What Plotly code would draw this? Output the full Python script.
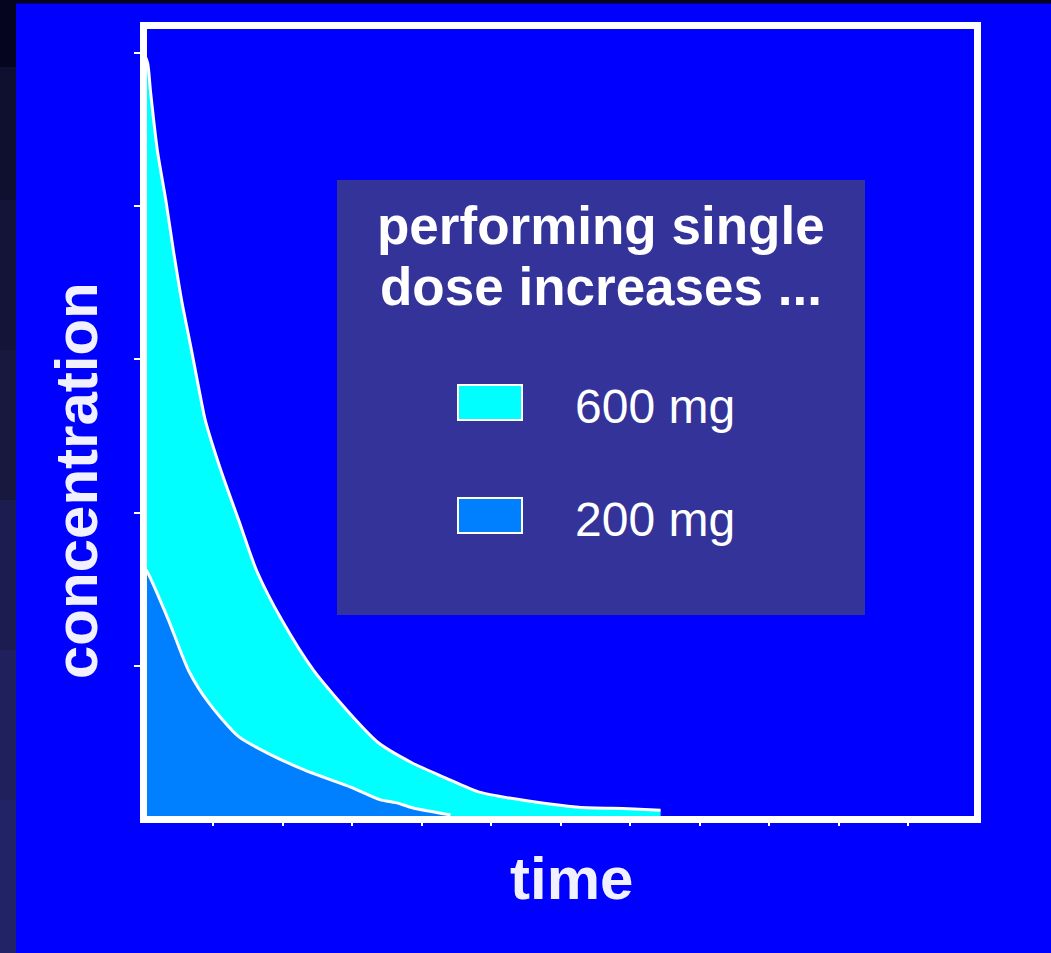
import plotly.graph_objects as go

# ---- data ----
t_600 = [0.0, 0.06, 0.10, 0.20, 0.32, 0.43, 0.55, 0.69, 0.83, 0.89, 1.11, 1.37, 1.63, 1.99,
         2.45, 3.05, 3.38, 3.86, 4.35, 4.82, 5.54, 6.26, 6.98, 7.44]
c_600 = [5.00, 4.93, 4.75, 4.36, 4.04, 3.71, 3.38, 3.06, 2.73, 2.60, 2.28, 1.95, 1.62, 1.30,
         0.97, 0.65, 0.50, 0.37, 0.27, 0.18, 0.12, 0.08, 0.07, 0.06]
t_200 = [0.0, 0.06, 0.36, 0.65, 0.94, 1.37, 1.80, 2.33, 2.99, 3.40, 3.63, 3.88, 4.42]
c_200 = [1.65, 1.61, 1.30, 0.97, 0.76, 0.54, 0.43, 0.32, 0.21, 0.13, 0.11, 0.075, 0.03]

series_names = ["600 mg", "200 mg"]
legend_title_lines = ["performing single", "dose increases ..."]
x_title = "time"
y_title = "concentration"
x_ticks = list(range(0, 13))
y_ticks = list(range(0, 6))

W, H = 1051, 953
L, R, T, B = 147, 974, 29, 816  # plot interior in pixels


def px(x):
    return (x - L) / (R - L)


def py(y):
    return (B - y) / (B - T)


FONT = "Liberation Sans, Arial, Helvetica, sans-serif"
BLUE = "#0000FF"
CYAN = "#00FFFF"
AZURE = "#0080FF"
BOX = "#333399"

fig = go.Figure()
fig.add_trace(go.Scatter(x=t_600, y=c_600, mode="lines", fill="tozeroy", fillcolor=CYAN,
                         line=dict(color="white", width=3, shape="spline", smoothing=0.7),
                         name=series_names[0]))
fig.add_trace(go.Scatter(x=t_200, y=c_200, mode="lines", fill="tozeroy", fillcolor=AZURE,
                         line=dict(color="white", width=3, shape="spline", smoothing=0.7),
                         name=series_names[1]))

shapes = []
# dark strips on page edges
strip_cols = ["#05051f", "#0f0f30", "#141438", "#18183f", "#1c1c50", "#20205c", "#222266"]
bounds = [0, 67, 200, 350, 500, 650, 800, 953]
for i, col in enumerate(strip_cols):
    shapes.append(dict(type="rect", xref="paper", yref="paper", x0=px(0), x1=px(16),
                       y0=py(bounds[i + 1]), y1=py(bounds[i]), fillcolor=col, line_width=0,
                       layer="below"))
shapes.append(dict(type="rect", xref="paper", yref="paper", x0=px(0), x1=px(W),
                   y0=py(3.5), y1=py(0), fillcolor="#05051f", line_width=0, layer="below"))
# legend box
shapes.append(dict(type="rect", xref="paper", yref="paper", x0=px(337), x1=px(865),
                   y0=py(615), y1=py(180), fillcolor=BOX, line_width=0))
shapes.append(dict(type="rect", xref="paper", yref="paper", x0=px(458), x1=px(522),
                   y0=py(420), y1=py(385), fillcolor=CYAN, line=dict(color="white", width=2)))
shapes.append(dict(type="rect", xref="paper", yref="paper", x0=px(458), x1=px(522),
                   y0=py(533), y1=py(498), fillcolor=AZURE, line=dict(color="white", width=2)))

annotations = [
    dict(text=legend_title_lines[0], xref="paper", yref="paper", x=px(601), y=py(225),
         xanchor="center", yanchor="middle", showarrow=False, align="center",
         font=dict(family=FONT, size=53, color="white", weight="bold")),
    dict(text=legend_title_lines[1], xref="paper", yref="paper", x=px(601), y=py(286),
         xanchor="center", yanchor="middle", showarrow=False, align="center",
         font=dict(family=FONT, size=53, color="white", weight="bold")),
    dict(text=series_names[0], xref="paper", yref="paper", x=px(573), y=py(406),
         xanchor="left", yanchor="middle", showarrow=False,
         font=dict(family=FONT, size=48, color="white")),
    dict(text=series_names[1], xref="paper", yref="paper", x=px(573), y=py(519),
         xanchor="left", yanchor="middle", showarrow=False,
         font=dict(family=FONT, size=48, color="white")),
    dict(text=x_title, xref="paper", yref="paper", x=px(571), y=py(878),
         xanchor="center", yanchor="middle", showarrow=False,
         font=dict(family=FONT, size=60, color="#f0f0ff", weight="bold")),
    dict(text=y_title, xref="paper", yref="paper", x=px(77), y=py(481),
         xanchor="center", yanchor="middle", showarrow=False, textangle=-90,
         font=dict(family=FONT, size=60, color="#f0f0ff", weight="bold")),
]

unit_x = 69.5
unit_y = 153.4
x0_px = 143.5
y0_px = 819.5

fig.update_layout(
    width=W, height=H,
    margin=dict(l=L, r=W - R, t=T, b=H - B, pad=0),
    paper_bgcolor=BLUE, plot_bgcolor=BLUE,
    showlegend=False,
    shapes=shapes, annotations=annotations,
    xaxis=dict(range=[(L - x0_px) / unit_x, (R - x0_px) / unit_x], showgrid=False, zeroline=False,
               showline=True, linecolor="white", linewidth=7, mirror=True,
               ticks="outside", tickvals=x_ticks, ticklen=3, tickwidth=2, tickcolor="white",
               showticklabels=False, fixedrange=True),
    yaxis=dict(range=[(y0_px - B) / unit_y, (y0_px - T) / unit_y], showgrid=False, zeroline=False,
               showline=True, linecolor="white", linewidth=7, mirror=True,
               ticks="outside", tickvals=y_ticks, ticklen=6, tickwidth=2, tickcolor="white",
               showticklabels=False, fixedrange=True),
)

fig.write_html("out.html")
